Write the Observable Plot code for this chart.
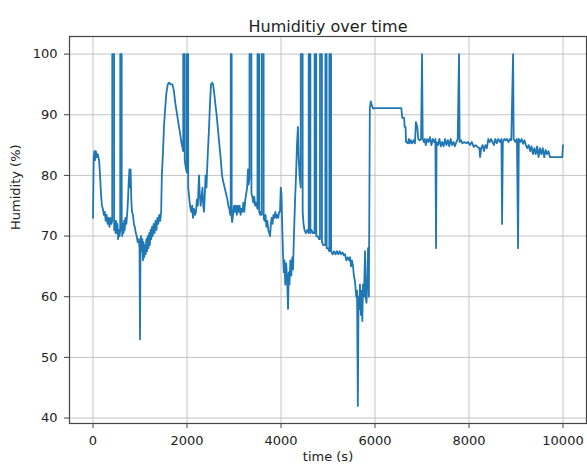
<!DOCTYPE html>
<html>
<head>
<meta charset="utf-8">
<script src="https://cdn.jsdelivr.net/npm/d3@7"></script>
<script src="https://cdn.jsdelivr.net/npm/@observablehq/plot@0.6"></script>
<style>
  html, body { margin: 0; padding: 0; background: #fff; }
</style>
</head>
<body>
<div id="chart"></div>
<script>
const chartTitle = "Humiditiy over time";
const xLabel = "time (s)";
const yLabel = "Humidity (%)";
const xTicks = [0, 2000, 4000, 6000, 8000, 10000];
const yTicks = [40, 50, 60, 70, 80, 90, 100];

// [time (s), humidity (%)]
const segmentA = [
  [0,73],[15,83],[30,84],[45,82.5],[60,84],[80,83],[100,83.5],[130,82.5],[150,80],[170,77],
  [190,75],[210,74.5],[230,73.5],[250,74],[270,72.5],[290,73.5],[310,72],[330,73],[350,71.5],[370,73],
  [390,72],[409,72.5],[410,100],[450,100],[451,71],[465,72.5],[480,70.5],[490,72.5],[505,70.5],[520,72],
  [535,69.5],[550,71],[565,70],[579,71],[580,100],[610,100],[611,72.5],[622,70],[635,72],[650,70.5],
  [662,72.5],[675,71],[690,73],[710,72],[730,74],[745,76],[760,79],[775,81],[790,78],[800,81],
  [815,76],[830,74],[850,73.5],[870,72],[890,71.5],[910,70.5],[930,70],[950,69],[975,69.5],[990,68],
  [1000,53],[1010,68]
];
const segmentB = [
  [1020,70],[1035,67.5],[1050,69.5],[1062,66],[1075,69],[1090,66.5],[1105,68.5],[1120,67],[1135,69.5],[1150,67.5],
  [1165,70],[1180,68],[1195,70.5],[1210,68.5],[1225,71],[1240,69.5],[1255,71.5],[1270,70],[1290,72],[1310,70.5],
  [1330,72.5],[1350,71],[1370,73],[1390,72],[1410,73.5],[1430,72.5],[1450,74],[1465,80],[1490,84],[1510,88],
  [1535,91],[1560,93.5],[1590,95],[1620,95.3],[1650,95],[1690,95],[1720,94],[1750,92],[1790,90],[1820,88.5],
  [1851,87],[1880,85.5],[1919,84],[1920,100],[1950,100],[1951,82.5],[1970,81.5],[1994,80.5],[1995,100],[2025,100],
  [2026,78],[2045,76.5],[2064,75],[2090,74],[2110,75],[2128,73],[2150,74.5],[2170,73.5],[2192,74],[2210,76],
  [2230,75],[2245,78],[2256,80],[2270,77],[2290,75],[2310,76.5],[2330,78],[2345,75],[2362,74],[2380,77],
  [2395,80],[2415,78],[2426,80.5],[2445,84],[2470,88],[2490,92],[2511,95],[2535,95.3],[2555,95],[2580,93.5]
];
const segmentC = [
  [2600,92],[2630,90],[2660,87.5],[2690,85],[2720,82.5],[2745,80],[2770,79],[2800,78],[2830,77],[2860,76],
  [2880,75],[2900,74.5],[2920,73.5],[2930,73.5],[2931,100],[2950,100],[2951,73],[2960,72.3],[2980,73.5],[3000,75],
  [3020,74],[3040,75],[3060,73.5],[3080,75],[3100,74],[3120,75],[3140,73.5],[3160,74.5],[3180,74],[3200,75.5],
  [3220,74],[3240,76],[3260,77],[3280,78],[3298,81],[3310,78.5],[3329,79.5],[3330,100],[3370,100],[3371,77],
  [3390,76.5],[3410,75.5],[3430,76.5],[3450,75],[3470,75.5],[3499,74.5],[3500,100],[3535,100],[3536,74],[3555,73.5],
  [3570,74],[3589,73.5],[3590,100],[3630,100],[3631,73],[3650,72.5],[3670,73.5],[3690,71.5],[3710,72.5],[3730,71],
  [3750,70.5],[3767,70],[3785,72],[3800,73],[3820,72],[3840,73.5],[3860,73],[3880,74],[3900,73],[3920,73.5],
  [3940,73],[3960,74]
];
const segmentD = [
  [3979,74],[3995,78],[4010,77],[4025,72],[4043,67],[4060,64],[4075,66],[4090,62],[4110,65.5],[4130,63],
  [4150,58],[4165,64],[4180,62],[4200,66],[4220,63.5],[4240,66.5],[4256,64.5],[4275,70],[4300,76],[4320,80],
  [4340,85],[4360,88],[4375,83],[4395,80],[4419,78],[4420,100],[4460,100],[4461,74],[4480,72],[4500,71],
  [4530,70.5],[4560,71],[4589,70.5],[4590,100],[4625,100],[4626,70.5],[4650,71],[4680,70.5],[4714,70.5],[4715,100],
  [4750,100],[4751,70],[4780,70],[4810,69.5],[4829,69.5],[4830,100],[4870,100],[4871,69],[4900,68.5],[4930,68.5],
  [4944,68.5],[4945,100],[4970,100],[4971,68],[4995,68],[5029,67.5],[5030,100],[5065,100],[5066,67.5],[5100,67],
  [5130,67.5],[5160,67],[5190,67.5],[5220,67],[5250,67.5],[5280,67],[5310,67.3],[5340,66.8],[5363,67],[5390,66],
  [5420,66.5],[5450,66],[5469,66.5],[5490,65],[5510,66],[5533,65],[5550,63.5],[5575,62.5],[5600,60],[5618,61],
  [5635,42],[5650,60],[5665,58],[5680,62],[5700,57],[5715,61],[5730,56],[5745,62],[5765,60],[5788,67.5],
  [5800,60],[5820,59],[5835,63],[5852,68],[5870,60],[5890,91],[5910,92.2],[5935,91.5],[5960,91]
];
const segmentE = [
  [6000,91.1],[6100,91.1],[6200,91.1],[6300,91.1],[6400,91.1],[6500,91.1],[6560,91.1],[6580,89.5],[6620,89.5],[6630,88],
  [6650,88],[6660,85.5],[6700,85.3],[6720,86],[6740,85.3],[6760,85.8],[6790,85.3],[6820,85.8],[6850,85.3],[6870,88.8],
  [6900,88],[6920,86],[6950,85.8],[6980,86],[7001,100],[7015,86],[7040,85.5],[7060,86],[7080,85],[7110,86],
  [7140,85.5],[7170,86.3],[7200,85],[7230,86],[7260,85.5],[7285,86],[7299,68],[7310,85.5],[7340,85],[7370,86],
  [7400,84.8],[7430,85.5],[7460,84.8],[7490,86],[7520,85],[7550,85.8],[7580,84.8],[7610,86],[7640,85],[7670,85.5],
  [7700,84.8],[7730,85.5],[7760,86],[7788,100],[7800,85.5],[7830,85.8],[7860,85.3],[7900,85.5],[7940,85.3],[7980,85.5]
];
const segmentF = [
  [8020,85],[8060,85.5],[8100,84.7],[8140,85],[8180,84.7],[8220,84.5],[8236,83],[8260,84.5],[8290,85],[8320,84],
  [8350,85],[8380,84.5],[8410,86],[8440,85.5],[8470,86],[8500,85.5],[8530,85],[8560,86],[8590,85.3],[8620,86],
  [8660,85.5],[8690,86],[8704,72],[8720,85.5],[8750,86],[8780,85.8],[8810,86],[8840,85.5],[8870,86],[8900,85.8],
  [8938,100],[8950,86],[8990,85.5],[9020,86],[9044,68],[9060,86],[9090,85.5],[9120,86],[9150,85.2],[9180,85.8],
  [9210,85],[9240,84.5],[9270,85],[9300,84],[9330,84.8],[9360,83.5],[9390,84.5],[9420,83.5],[9450,84.8],[9480,83],
  [9510,84.5],[9540,83.5],[9570,84.5],[9600,83],[9630,84.2],[9660,83.5],[9690,84],[9725,83],[9760,83],[9800,83],
  [9850,83],[9900,83],[9950,83],[9985,83],[10000,85]
];

const readings = [...segmentA, ...segmentB, ...segmentC, ...segmentD, ...segmentE, ...segmentF]
  .map(([t, h]) => ({t, h}));

const font = "DejaVu Sans, sans-serif";

const chart = Plot.plot({
  width: 587,
  height: 468,
  marginLeft: 69,
  marginRight: 1,
  marginTop: 36,
  marginBottom: 45,
  style: {fontFamily: font, fontSize: "13px", background: "#fff", color: "#222"},
  x: {domain: [-500, 10500]},
  y: {domain: [39.1, 102.9]},
  marks: [
    Plot.gridX(xTicks, {stroke: "#c4c4c4", strokeOpacity: 1, strokeWidth: 1}),
    Plot.gridY(yTicks, {stroke: "#c4c4c4", strokeOpacity: 1, strokeWidth: 1}),
    Plot.line(readings, {x: "t", y: "h", stroke: "#1f77b4", strokeWidth: 1.8}),
    Plot.frame({stroke: "#444", strokeWidth: 1.2}),
    Plot.axisX(xTicks, {tickSize: 5, tickPadding: 7, label: null, fontSize: 13, stroke: "#444", tickFormat: d => String(d)}),
    Plot.axisY(yTicks, {tickSize: 5, tickPadding: 7, label: null, fontSize: 13, stroke: "#444", tickFormat: d => String(d)}),
    Plot.text([chartTitle], {frameAnchor: "top", dy: -16, fontSize: 16, fill: "#222"}),
    Plot.text([xLabel], {frameAnchor: "bottom", dy: 37, fontSize: 13, fill: "#222"}),
    Plot.text([yLabel], {frameAnchor: "left", dx: -54, rotate: -90, fontSize: 13, fill: "#222"})
  ]
});
document.getElementById("chart").appendChild(chart);
</script>
</body>
</html>
